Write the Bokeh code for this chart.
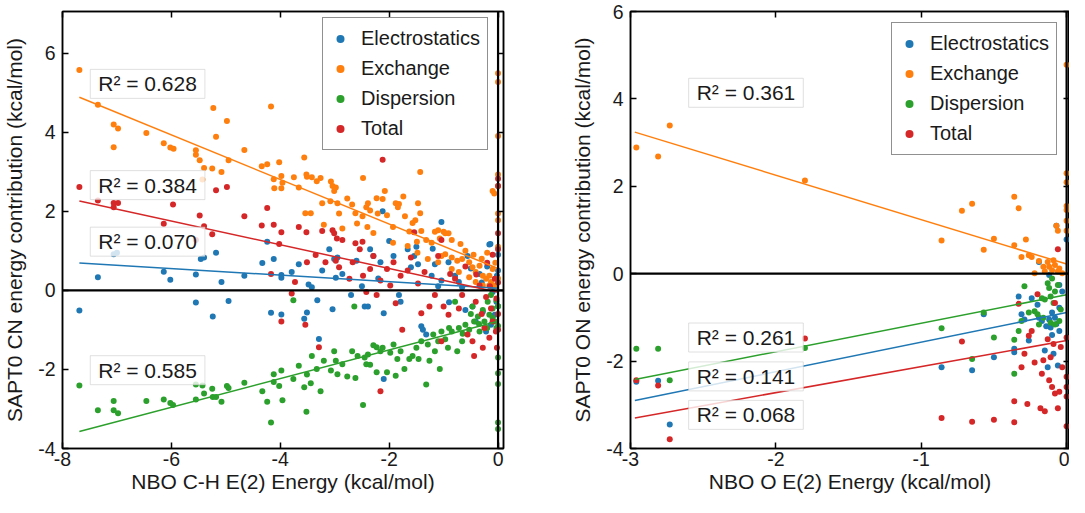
from bokeh.plotting import figure
from bokeh.models import Span, Label, LinearAxis, Range1d, FixedTicker
from bokeh.layouts import row
from bokeh.embed import file_html
from bokeh.resources import INLINE

# ---------------- data: left panel (C-H) ----------------
left_elst = [(-7.69,-0.51),(-7.35,0.33),(-7.06,0.91),(-7.0,0.95),(-6.14,0.47),(-6.02,0.27),(-5.55,0.40),
    (-5.55,-0.31),(-5.46,0.79),(-5.40,0.83),(-5.24,-0.66),(-5.18,0.95),(-5.08,0.21),(-4.95,-0.27),(-4.66,0.37),
    (-4.33,0.69),(-4.24,1.23),(-4.12,0.79),(-4.17,-0.57),(-3.98,-0.61),(-3.98,0.39),(-3.98,0.32),(-3.79,0.46),
    (-3.66,0.66),(-3.56,-0.72),(-3.51,-0.56),(-3.48,0.15),(-3.42,0.08),(-3.32,-0.25),(-3.29,-1.23),(-3.23,0.50),
    (-3.10,1.04),(-3.01,0.79),(-2.98,0.32),(-2.95,0.83),(-3.04,-0.48),(-2.86,0.41),(-2.70,-0.12),(-2.60,0.75),
    (-2.45,-0.41),(-2.39,-0.41),(-2.35,1.04),(-2.29,0.87),(-2.16,0.71),(-2.12,2.0),(-2.10,-0.58),(-2.10,-2.24),
    (-1.92,0.87),(-1.82,-0.12),(-1.79,-0.29),(-1.66,1.04),(-1.60,0.58),(-1.54,0.87),(-1.47,0.66),(-1.41,-0.91),
    (-1.38,-1.0),(-1.32,-1.12),(-1.22,0.37),(-1.16,0.66),(-1.04,1.73),(-1.04,0.25),(-0.91,0.71),(-0.79,0.37),
    (-0.72,0.21),(-0.66,0.08),(-0.56,0.87),(-0.47,-0.41),(-0.41,-0.79),(-0.34,0.41),(-0.28,-0.54),(-0.22,-1.04),
    (-0.16,1.16),(-0.14,1.17),(-0.13,-0.87),(-0.10,-0.04),(-0.06,-0.62),(-0.03,-0.29),(-0.02,0.37),(-0.50,0.55),
    (-0.30,0.20),(-0.20,0.60),(-0.08,0.10),(0.0,0.50),(0.0,-0.40),(0.0,0.90),(-2.0,1.25),(-1.5,1.10),(-2.5,0.10),
    (-2.2,0.30),(-1.2,1.05),(-0.9,-0.30),(-0.6,-0.50),(-1.1,0.10)]
left_exch = [(-7.69,5.57),(-7.35,4.69),(-7.06,4.19),(-6.98,4.09),(-7.06,3.62),(-6.46,3.98),(-6.14,3.72),
    (-6.02,3.61),(-5.96,3.58),(-5.55,3.54),(-5.55,3.43),(-5.48,3.29),(-5.40,3.09),(-5.25,3.08),(-5.43,2.80),
    (-5.23,4.61),(-5.18,3.88),(-5.08,2.99),(-4.98,4.28),(-4.95,3.29),(-4.66,3.55),(-4.34,3.14),(-4.24,3.19),
    (-4.17,4.65),(-4.12,2.81),(-4.11,2.58),(-4.02,3.24),(-3.98,2.89),(-3.98,2.58),(-3.96,2.72),(-3.75,2.86),
    (-3.66,2.60),(-3.56,3.36),(-3.52,2.93),(-3.51,2.87),(-3.54,1.95),(-3.44,1.95),(-3.42,2.86),(-3.33,2.76),
    (-3.26,2.84),(-3.23,2.20),(-3.20,1.66),(-3.07,2.75),(-3.04,2.64),(-3.01,2.51),(-2.98,2.60),(-3.08,2.25),
    (-2.95,2.20),(-2.92,1.94),(-2.86,1.56),(-2.77,2.32),(-2.68,2.17),(-2.62,1.95),(-2.59,1.69),(-2.48,2.84),
    (-2.49,1.87),(-2.42,2.10),(-2.39,2.20),(-2.35,2.02),(-2.40,1.60),(-2.29,1.45),(-2.23,2.33),(-2.21,1.94),
    (-2.12,2.31),(-2.08,2.51),(-2.04,1.90),(-1.93,1.20),(-1.93,1.60),(-1.88,2.20),(-1.82,2.18),(-1.84,2.10),
    (-1.74,2.37),(-1.71,1.87),(-1.63,1.49),(-1.57,1.70),(-1.52,1.77),(-1.49,1.23),(-1.47,2.20),(-1.43,2.99),
    (-1.43,1.95),(-1.41,1.50),(-1.32,1.27),(-1.22,1.20),(-1.16,1.48),(-1.10,1.52),(-1.07,1.31),(-1.00,1.48),
    (-0.97,1.44),(-0.91,1.44),(-0.85,1.27),(-0.69,1.17),(-0.10,2.51),(-0.07,2.45),(0.0,5.49),(0.0,5.27),
    (0.0,3.90),(0.0,2.93),(0.0,2.64),(0.0,1.94),(0.0,1.77),(-1.04,0.87),(-0.97,0.91),(-0.85,0.83),(-0.75,0.75),
    (-0.66,0.79),(-0.53,0.71),(-0.47,0.58),(-0.41,0.46),(-0.34,0.62),(-0.28,0.37),(-0.22,0.29),(-0.16,0.37),
    (-0.13,0.21),(-0.10,0.54),(-0.06,0.12),(-0.16,0.12),(-0.28,0.12),(-0.41,0.21),(-0.53,0.33),(-0.72,0.46),
    (-0.85,0.54),(-1.10,0.71),(-1.29,0.79),(-1.48,0.95),(-1.66,1.12),(-0.60,1.00),(-0.45,0.90),(-0.30,0.80),
    (-0.20,0.95),(-0.05,0.70),(0.0,0.30),(0.0,1.10)]
left_disp = [(-7.69,-2.41),(-7.35,-3.03),(-7.06,-2.80),(-7.06,-3.03),(-6.98,-3.11),(-6.46,-2.80),(-6.14,-2.76),
    (-6.02,-2.85),(-5.97,-2.90),(-5.55,-2.38),(-5.55,-2.76),(-5.43,-2.41),(-5.40,-2.61),(-5.25,-2.49),(-5.24,-2.70),
    (-5.18,-2.70),(-5.08,-2.82),(-4.98,-2.42),(-4.95,-2.47),(-4.66,-2.34),(-4.33,-2.55),(-4.24,-2.82),(-4.17,-3.34),
    (-4.12,-2.32),(-4.12,-2.12),(-4.02,-2.42),(-3.98,-2.03),(-3.96,-2.78),(-3.76,-2.24),(-3.66,-1.91),(-3.56,-2.45),
    (-3.52,-3.07),(-3.51,-2.13),(-3.44,-2.35),(-3.42,-1.66),(-3.33,-1.99),(-3.26,-2.55),(-3.20,-1.78),(-3.07,-2.03),
    (-3.01,-1.54),(-2.98,-1.78),(-2.95,-2.12),(-2.86,-1.87),(-2.77,-2.18),(-2.68,-1.54),(-2.62,-2.22),(-2.58,-1.66),
    (-2.48,-2.90),(-2.45,-1.70),(-2.42,-1.87),(-2.39,-1.62),(-2.35,-1.88),(-2.29,-1.39),(-2.23,-1.44),(-2.23,-2.07),
    (-2.16,-1.54),(-2.12,-1.45),(-2.04,-2.07),(-1.98,-1.58),(-1.92,-1.37),(-1.88,-2.16),(-1.85,-1.74),(-1.79,-1.54),
    (-1.72,-1.99),(-1.63,-1.74),(-1.57,-1.66),(-1.50,-1.45),(-1.46,-1.74),(-1.41,-1.29),(-1.32,-2.38),(-1.29,-1.37),
    (-1.26,-1.78),(-1.19,-1.12),(-1.16,-1.54),(-1.10,-1.29),(-1.07,-1.99),(-1.04,-1.04),(-0.97,-1.24),(-0.92,-1.45),
    (-0.85,-1.04),(-0.79,-0.29),(-0.75,-1.54),(-0.72,-0.95),(-0.66,-1.29),(-0.60,-0.87),(-0.53,-1.00),(-0.47,-0.41),
    (-0.44,-0.79),(-0.37,-0.66),(-0.34,-1.04),(-0.28,-0.50),(-0.25,-0.79),(-0.19,-0.29),(-0.16,-0.62),(-0.13,-0.12),
    (-0.10,-0.46),(-0.06,-0.79),(-0.03,-0.25),(0.0,-1.70),(0.0,-2.10),(0.0,-2.37),(0.0,-3.34),(0.0,-3.51),
    (-0.03,-0.95),(-3.76,-0.25),(-2.64,-0.41),(-0.50,-0.60),(-0.35,-0.85),(-0.20,-0.95),(-0.10,-0.70),(0.0,-0.40),
    (0.0,-0.90),(-0.65,-1.10),(-0.90,-0.95)]
left_tot = [(-7.69,2.61),(-7.35,2.27),(-7.06,2.21),(-6.98,2.21),(-7.06,2.10),(-6.14,1.68),(-5.97,2.17),
    (-5.55,1.27),(-5.48,1.89),(-5.40,1.62),(-5.25,1.42),(-5.18,2.53),(-4.98,2.61),(-4.66,1.87),(-4.34,1.64),
    (-4.24,2.08),(-4.12,1.66),(-4.02,1.17),(-3.98,1.47),(-3.66,1.60),(-3.52,1.47),(-3.23,1.50),(-3.04,1.52),
    (-3.01,1.44),(-2.96,1.31),(-2.86,1.27),(-2.62,1.19),(-2.12,3.30),(-2.49,1.23),(-1.54,1.47),(-1.04,1.27),
    (0.0,2.82),(0.0,2.64),(0.0,1.44),(0.0,1.04),(-4.17,0.41),(-3.98,-0.79),(-3.79,-0.08),(-3.73,0.21),
    (-3.54,-0.87),(-3.51,0.71),(-3.29,-1.44),(-3.35,0.89),(-3.17,0.71),(-2.98,0.75),(-2.92,0.58),(-2.73,0.29),
    (-2.67,0.71),(-2.54,1.04),(-2.48,0.37),(-2.42,-0.04),(-2.35,0.54),(-2.29,0.87),(-2.23,-0.12),(-2.16,0.25),
    (-2.16,-2.55),(-2.04,0.54),(-1.98,0.12),(-1.92,0.71),(-1.88,-0.33),(-1.79,0.37),(-1.76,-1.00),(-1.66,0.50),
    (-1.60,0.83),(-1.47,0.17),(-1.41,-0.58),(-1.35,0.46),(-1.26,-0.41),(-1.16,-0.12),(-1.10,0.87),(-1.04,-1.29),
    (-1.00,-0.41),(-0.91,-0.62),(-0.88,0.41),(-0.79,0.29),(-0.72,-0.46),(-0.66,-0.12),(-0.56,-1.12),(-0.47,-1.29),
    (-0.44,-1.66),(-0.41,-0.29),(-0.34,0.12),(-0.28,-1.45),(-0.25,-0.95),(-0.22,-0.17),(-0.16,-1.20),(-0.13,-0.46),
    (-0.10,-0.79),(-0.06,0.29),(-0.04,-1.04),(-0.03,-0.21),(-0.02,-1.45),(-0.60,0.60),(-0.40,0.40),(-0.20,0.70),
    (-0.10,0.90),(0.0,0.20),(0.0,-0.60),(0.0,-1.00),(-0.30,-0.60),(-0.15,0.10)]
left_fit_x = [-7.69, 0.0]
left_fit_elst = [0.69, 0.05]
left_fit_exch = [4.88, 0.55]
left_fit_disp = [-3.57, -0.78]
left_fit_tot = [2.26, -0.05]
left_r2 = ["0.070", "0.628", "0.585", "0.384"]

# ---------------- data: right panel (O) ----------------
right_elst = [(-2.96,-2.47),(-2.81,-2.45),(-2.73,-3.45),(-0.86,-2.14),(-0.65,-2.21),(-0.57,-0.93),(-0.50,-1.91),
    (-0.36,-1.80),(-0.36,-1.72),(-0.33,-0.52),(-0.31,-0.93),(-0.29,-1.05),(-0.26,-1.53),(-0.24,-0.56),(-0.20,-0.71),
    (-0.19,-1.01),(-0.17,-1.08),(-0.15,-1.76),(-0.13,-2.14),(-0.12,-1.05),(-0.11,-1.23),(-0.10,-0.89),(-0.09,-1.83),
    (-0.08,-1.01),(-0.06,-2.10),(-0.05,-0.26),(-0.19,0.27),(-0.12,-0.03),(-0.07,1.10),(0.0,0.78),(-0.03,-0.41),
    (-0.05,-0.78),(-0.05,-1.31),(-0.14,-1.20),(-0.10,-1.40),(-0.07,-1.15)]
right_exch = [(-2.96,2.89),(-2.81,2.68),(-2.73,3.39),(-1.80,2.13),(-0.86,0.76),(-0.72,1.44),(-0.65,1.60),
    (-0.57,0.55),(-0.50,0.80),(-0.36,1.76),(-0.36,0.65),(-0.33,1.50),(-0.28,0.78),(-0.07,1.10),(-0.06,0.98),
    (0.0,4.78),(0.0,2.30),(0.0,2.09),(0.0,1.55),(0.0,1.46),(0.0,1.21),(0.0,0.98),(-0.31,0.38),(-0.26,0.42),
    (-0.24,0.38),(-0.19,0.29),(-0.16,0.16),(-0.13,0.27),(-0.12,0.16),(-0.10,0.08),(-0.08,0.20),(-0.06,0.05),
    (-0.05,0.12),(-0.15,0.05),(-0.09,0.31),(-0.03,0.01),(-0.22,0.01)]
right_disp = [(-2.96,-1.72),(-2.81,-1.72),(-2.73,-2.44),(-1.80,-1.70),(-0.86,-1.25),(-0.65,-1.95),(-0.57,-0.89),
    (-0.50,-1.46),(-0.36,-1.51),(-0.36,-2.29),(-0.33,-1.31),(-0.31,-1.08),(-0.29,-0.29),(-0.26,-0.89),(-0.22,-0.86),
    (-0.20,-0.93),(-0.19,-1.16),(-0.17,-0.56),(-0.15,-0.59),(-0.13,-0.22),(-0.12,-0.33),(-0.11,-0.52),(-0.10,-0.11),
    (-0.09,-0.67),(-0.08,-0.41),(-0.06,-0.26),(-0.05,-1.08),(-0.04,-0.82),(-0.16,-1.01),(-0.11,-1.12),(-0.08,-1.16)]
right_tot = [(-2.96,-2.44),(-2.81,-2.56),(-2.73,-3.79),(-1.80,-1.48),(-0.86,-3.30),(-0.72,-1.55),(-0.65,-3.39),
    (-0.50,-3.34),(-0.36,-3.40),(-0.36,-2.92),(-0.33,-0.69),(-0.27,-2.98),(-0.31,-2.14),(-0.29,-1.83),(-0.26,-1.42),
    (-0.24,-1.31),(-0.22,-2.03),(-0.20,-0.47),(-0.18,-3.08),(-0.17,-2.29),(-0.16,-1.98),(-0.15,-3.15),(-0.13,-1.50),
    (-0.12,-2.44),(-0.11,-1.91),(-0.10,-2.59),(-0.09,-1.61),(-0.08,-2.74),(-0.06,-3.08),(-0.05,-2.70),(-0.04,-1.68),
    (-0.03,-2.14),(-0.06,0.56),(-0.08,-0.67),(0.0,-2.36),(0.0,-2.59),(0.0,-2.81),(0.0,-3.49),(0.0,-1.46)]
right_fit_x = [-2.97, 0.0]
right_fit_elst = [-2.90, -0.89]
right_fit_exch = [3.24, 0.22]
right_fit_disp = [-2.42, -0.48]
right_fit_tot = [-3.30, -1.53]
right_r2 = ["0.141", "0.361", "0.261", "0.068"]

series_names = ["Electrostatics", "Exchange", "Dispersion", "Total"]
series_colors = ["#1f77b4", "#ff7f0e", "#2ca02c", "#d62728"]

FONT = "Liberation Sans"
TXT = "#1a1a1a"


def style_axis(ax, ticks, show_labels=True):
    ax.ticker = FixedTicker(ticks=ticks)
    ax.axis_line_color = "black"
    ax.axis_line_width = 1.5
    ax.major_tick_in = 6
    ax.major_tick_out = 0
    ax.major_tick_line_color = "black"
    ax.major_tick_line_width = 1.5
    ax.minor_tick_line_color = None
    ax.major_label_text_font = FONT
    if show_labels:
        ax.major_label_text_color = TXT
        ax.major_label_text_font_size = "19.5px"
        ax.major_label_overrides = {t: str(t) for t in ticks}
    else:
        ax.major_label_text_color = None
        ax.major_label_text_font_size = "1px"
        ax.major_label_standoff = 0


def make_panel(width, bl, br, bt, xr, yr, xticks, yticks, xlabel, ylabel, data, fit_x, fits,
               r2, r2_pos, legend_loc):
    p = figure(width=width, height=497, x_range=Range1d(*xr), y_range=Range1d(*yr),
               output_backend="svg", toolbar_location=None,
               min_border_left=bl, min_border_right=br, min_border_top=bt, min_border_bottom=49)
    p.xgrid.visible = False
    p.ygrid.visible = False
    p.outline_line_color = "black"
    p.outline_line_width = 1.5
    p.background_fill_color = "white"
    p.border_fill_color = "white"
    style_axis(p.xaxis[0], xticks)
    style_axis(p.yaxis[0], yticks)
    for ax in (p.xaxis[0], p.yaxis[0]):
        ax.axis_label_text_font = FONT
        ax.axis_label_text_font_size = "21px"
        ax.axis_label_text_font_style = "normal"
        ax.axis_label_text_color = TXT
    p.xaxis[0].axis_label = xlabel
    p.yaxis[0].axis_label = ylabel
    p.xaxis[0].major_label_standoff = 3
    p.xaxis[0].axis_label_standoff = 1
    p.yaxis[0].major_label_standoff = 7
    p.yaxis[0].axis_label_standoff = 9
    top = LinearAxis()
    style_axis(top, xticks, False)
    right = LinearAxis()
    style_axis(right, yticks, False)
    p.add_layout(top, "above")
    p.add_layout(right, "right")

    for pts, name, col in zip(data, series_names, series_colors):
        xs = [a for a, b in pts]
        ys = [b for a, b in pts]
        p.scatter(xs, ys, size=6, color=col, line_color=None, legend_label=name)
    for fy, col in zip(fits, series_colors):
        p.line(fit_x, fy, line_color=col, line_width=1.5)

    p.add_layout(Span(location=0, dimension="width", line_color="black", line_width=2.2))
    p.add_layout(Span(location=0, dimension="height", line_color="black", line_width=2.2))

    for txt, (lx, ly) in zip(r2, r2_pos):
        p.add_layout(Label(x=lx, y=ly, text="R² = " + txt, text_font=FONT, text_font_size="21px",
                           text_color=TXT, text_baseline="middle", text_align="left",
                           background_fill_color="white", background_fill_alpha=0.8,
                           border_line_color="#cccccc", border_line_alpha=0.6,
                           padding=dict(left=8, right=8, top=3, bottom=3)))

    lg = p.legend[0]
    lg.location = legend_loc
    lg.padding = 7
    lg.spacing = 3
    lg.border_line_color = "#222222"
    lg.border_line_width = 1.8
    lg.background_fill_alpha = 1.0
    lg.label_text_font = FONT
    lg.label_text_font_size = "20px"
    lg.label_text_color = TXT
    lg.glyph_width = 20
    lg.glyph_height = 27
    lg.label_height = 27
    lg.label_standoff = 11
    return p


p1 = make_panel(568, 57, 65, 6, (-8, 0.1), (-4, 7.05), [-8, -6, -4, -2, 0], [-4, -2, 0, 2, 4, 6],
                "NBO C-H E(2) Energy (kcal/mol)", "SAPT0 CN energy contribution (kcal/mol)",
                [left_elst, left_exch, left_disp, left_tot], left_fit_x,
                [left_fit_elst, left_fit_exch, left_fit_disp, left_fit_tot],
                left_r2, [(-7.49, 1.23), (-7.49, 5.22), (-7.49, -2.02), (-7.49, 2.66)], (260, 298))
p2 = make_panel(501, 57, 0, 11, (-3, 0.02), (-4, 6), [-3, -2, -1, 0], [-4, -2, 0, 2, 4, 6],
                "NBO O E(2) Energy (kcal/mol)", "SAPT0 ON energy contribution (kcal/mol)",
                [right_elst, right_exch, right_disp, right_tot], right_fit_x,
                [right_fit_elst, right_fit_exch, right_fit_disp, right_fit_tot],
                right_r2, [(-2.60, -2.35), (-2.60, 4.14), (-2.60, -1.46), (-2.60, -3.23)], (261, 293))

layout = row(p1, p2)
open("out.html", "w").write(file_html(layout, INLINE))
